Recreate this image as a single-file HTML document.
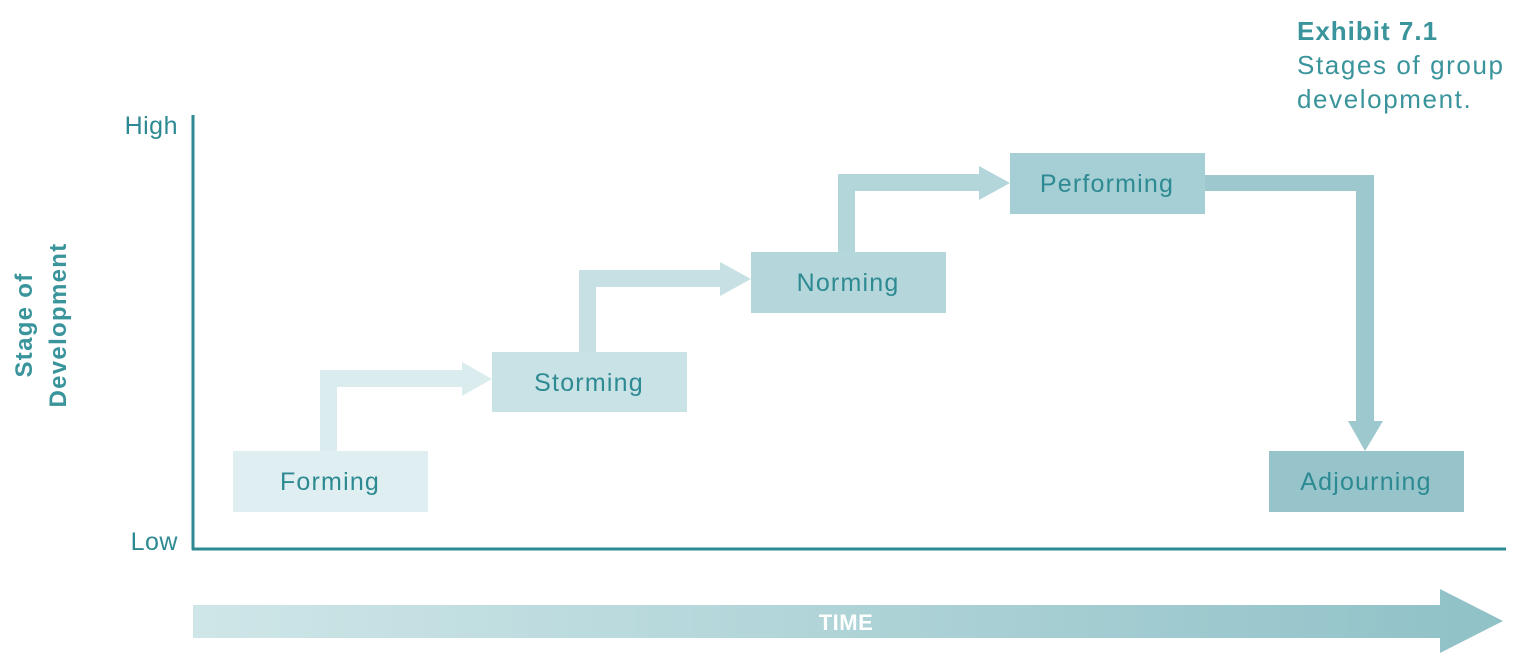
<!DOCTYPE html>
<html><head><meta charset="utf-8"><style>
html,body{margin:0;padding:0;background:#fff;}
svg{display:block;font-family:"Liberation Sans",sans-serif;}
</style></head><body>
<svg width="1536" height="663" viewBox="0 0 1536 663" xmlns="http://www.w3.org/2000/svg">
<defs>
<linearGradient id="tg" x1="0" x2="1" y1="0" y2="0">
<stop offset="0" stop-color="#cfe6e8"/><stop offset="1" stop-color="#8fc1c7"/>
</linearGradient>
</defs>
<!-- title -->
<text x="1297" y="40" font-size="26" font-weight="bold" fill="#3a949b" letter-spacing="1">Exhibit 7.1</text>
<text x="1297" y="74" font-size="26" fill="#3a949b" letter-spacing="1.6">Stages of group</text>
<text x="1297" y="108" font-size="26" fill="#3a949b" letter-spacing="1.6">development.</text>
<!-- axes -->
<line x1="193" y1="115" x2="193" y2="550" stroke="#2e8a92" stroke-width="3"/>
<line x1="192" y1="549" x2="1506" y2="549" stroke="#2e8a92" stroke-width="3"/>
<text x="178" y="134" font-size="25" fill="#2e8a92" text-anchor="end" letter-spacing="0.5">High</text>
<text x="178" y="550" font-size="25" fill="#2e8a92" text-anchor="end" letter-spacing="0.5">Low</text>
<g transform="translate(32,325) rotate(-90)"><text x="0" y="0" font-size="24" font-weight="bold" fill="#3a949b" text-anchor="middle" letter-spacing="1.3">Stage of</text></g>
<g transform="translate(66,325) rotate(-90)"><text x="0" y="0" font-size="24" font-weight="bold" fill="#3a949b" text-anchor="middle" letter-spacing="1.3">Development</text></g>
<!-- connectors -->
<path d="M320 451 V370 H462 V362 L492 379 L462 396 V387 H337 V451 Z" fill="#dbecee"/>
<path d="M579 352 V270 H720 V262 L751 279 L720 296 V287 H596 V352 Z" fill="#c6e0e3"/>
<path d="M838 252 V174 H979 V166 L1010 183 L979 200 V191 H855 V252 Z" fill="#b3d6da"/>
<path d="M1205 175 H1374 V421 H1383 L1365 451 L1348 421 H1356 V191 H1205 Z" fill="#9dc9ce"/>
<!-- boxes -->
<rect x="233" y="451" width="195" height="61" fill="#dfeef0"/>
<rect x="492" y="352" width="195" height="60" fill="#c9e2e5"/>
<rect x="751" y="252" width="195" height="61" fill="#b5d7db"/>
<rect x="1010" y="153" width="195" height="61" fill="#a5cfd4"/>
<rect x="1269" y="451" width="195" height="61" fill="#96c4ca"/>
<g font-size="25" fill="#2e8a92" text-anchor="middle" letter-spacing="1.2">
<text x="330" y="490">Forming</text>
<text x="589" y="391">Storming</text>
<text x="848" y="291">Norming</text>
<text x="1107" y="192">Performing</text>
<text x="1366" y="490">Adjourning</text>
</g>
<!-- time arrow -->
<path d="M193 605 H1440 V589 L1503 621 L1440 653 V638 H193 Z" fill="url(#tg)"/>
<text x="846" y="630" font-size="22" font-weight="bold" fill="#fff" text-anchor="middle" letter-spacing="0.5">TIME</text>
</svg>
</body></html>
